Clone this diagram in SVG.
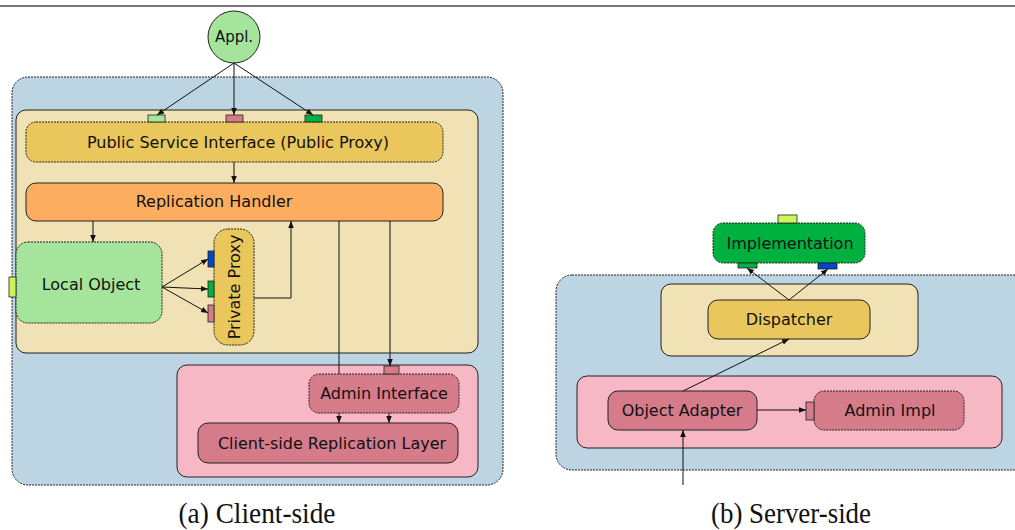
<svg xmlns="http://www.w3.org/2000/svg" width="1015" height="530" viewBox="0 0 1015 530">
<style>
text{font-family:"DejaVu Sans",sans-serif;font-size:16px;fill:#111;text-anchor:middle;dominant-baseline:central}
.cap{font-family:"Liberation Serif",serif;font-size:29px;dominant-baseline:auto}
.s{stroke:#222;stroke-width:1}
.d{stroke:#222;stroke-width:1;stroke-dasharray:2,1}
.blue{fill:#bdd5e2}
.tan{fill:#f0e2b4}
.gold{fill:#e9c75c}
.orange{fill:#fdad60}
.lgreen{fill:#a4e59b}
.green{fill:#00b140}
.pinkbg{fill:#f6b8c4}
.rose{fill:#d67b8a}
.lime{fill:#ccf55a}
.dblue{fill:#0047c9}
.port{stroke:#222;stroke-width:0.8}
.c{fill:none;stroke:#111;stroke-width:1;marker-end:url(#ah)}
.l{fill:none;stroke:#111;stroke-width:1}
</style>
<defs>
<marker id="ah" viewBox="0 0 10 10" refX="10" refY="5" markerWidth="7" markerHeight="7" orient="auto" markerUnits="userSpaceOnUse">
<path d="M0,1 L10,5 L0,9 z" fill="#111"/>
</marker>
</defs>
<line x1="0" y1="6" x2="1015" y2="6" stroke="#777" stroke-width="2"/>

<g id="client-container">
<rect x="12" y="77" width="491" height="408" rx="16" class="blue d"/>
<rect x="16" y="110" width="462" height="243" rx="10" class="tan s"/>
<rect x="177" y="365" width="301" height="112" rx="10" class="pinkbg s"/>
</g>

<g id="appl">
<circle cx="234" cy="37" r="26" class="lgreen s"/>
<text x="234" y="37" style="font-size:15px">Appl.</text>
</g>

<g id="public-service-interface">
<rect x="26" y="122" width="417" height="40" rx="10" class="gold d"/>
<rect x="148" y="115" width="17" height="7" class="lgreen port"/>
<rect x="226" y="115" width="17" height="7" class="rose port"/>
<rect x="305" y="115" width="17" height="7" class="green port"/>
<text x="238" y="142">Public Service Interface (Public Proxy)</text>
</g>

<g id="replication-handler">
<rect x="26" y="183" width="417" height="38" rx="10" class="orange s"/>
<text x="214" y="201">Replication Handler</text>
</g>

<g id="local-object">
<rect x="16" y="242" width="146" height="81" rx="12" class="lgreen d"/>
<rect x="9" y="277" width="7" height="20" class="lime port"/>
<text x="91" y="284">Local Object</text>
</g>

<g id="private-proxy">
<rect x="214" y="229" width="40" height="116" rx="14" class="gold d"/>
<rect x="208" y="251" width="6" height="16" class="dblue port"/>
<rect x="208" y="281" width="6" height="16" class="green port"/>
<rect x="208" y="305" width="6" height="17" class="rose port"/>
<text x="0" y="0" transform="translate(234,287) rotate(-90)">Private Proxy</text>
</g>

<g id="admin-interface">
<rect x="309" y="374" width="150" height="39" rx="10" class="rose d"/>
<rect x="384" y="366" width="15" height="8" class="rose port"/>
<text x="384" y="393">Admin Interface</text>
</g>

<g id="client-replication-layer">
<rect x="198" y="423" width="260" height="40" rx="10" class="rose s"/>
<text x="332" y="443">Client-side Replication Layer</text>
</g>

<g id="server-container">
<rect x="556" y="275" width="480" height="195" rx="16" class="blue d"/>
<rect x="661" y="284" width="257" height="72" rx="10" class="tan s"/>
<rect x="577" y="376" width="425" height="72" rx="10" class="pinkbg s"/>
</g>

<g id="implementation">
<rect x="713" y="223" width="152" height="40" rx="10" class="green d"/>
<rect x="778" y="215" width="19" height="8" class="lime port"/>
<rect x="738" y="263" width="19" height="5" class="green port"/>
<rect x="818" y="263" width="19" height="6" class="dblue port"/>
<text x="790" y="243">Implementation</text>
</g>

<g id="dispatcher">
<rect x="708" y="300" width="162" height="39" rx="10" class="gold s"/>
<text x="789" y="319">Dispatcher</text>
</g>

<g id="object-adapter">
<rect x="608" y="391" width="149" height="39" rx="10" class="rose s"/>
<text x="682" y="410">Object Adapter</text>
</g>

<g id="admin-impl">
<rect x="814" y="391" width="150" height="39" rx="10" class="rose d"/>
<rect x="806" y="402" width="8" height="18" class="rose port"/>
<text x="890" y="410">Admin Impl</text>
</g>

<g id="connectors">
<path class="c" d="M234,63 L157,115"/>
<path class="c" d="M234,63 L234,115"/>
<path class="c" d="M234,63 L313,115"/>
<path class="c" d="M234,162 L234,183"/>
<path class="c" d="M93,221 L93,242"/>
<path class="c" d="M162,287 L208,259"/>
<path class="c" d="M162,287 L208,289"/>
<path class="c" d="M162,287 L208,313"/>
<path class="c" d="M254,298 L291,298 L291,221"/>
<path class="l" d="M339,221 L339,374"/>
<path class="c" d="M390,221 L390,366"/>
<path class="c" d="M339,413 L339,423"/>
<path class="c" d="M389,413 L389,423"/>
<path class="c" d="M789,300 L747,268"/>
<path class="c" d="M789,300 L828,269"/>
<path class="c" d="M683,391 L789,339"/>
<path class="c" d="M757,410 L806,410"/>
<path class="c" d="M683,485 L683,430"/>
</g>

<text class="cap" x="257" y="523" textLength="157" lengthAdjust="spacingAndGlyphs">(a) Client-side</text>
<text class="cap" x="791" y="523" textLength="160" lengthAdjust="spacingAndGlyphs">(b) Server-side</text>
</svg>
